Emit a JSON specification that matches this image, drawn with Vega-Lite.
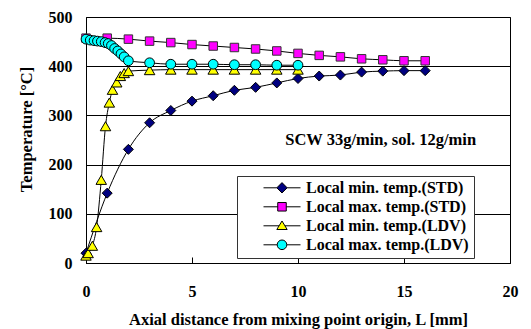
{
  "$schema": "https://vega.github.io/schema/vega-lite/v6.json",
  "width": 424,
  "height": 246,
  "autosize": {"type": "none"},
  "padding": {"left": 86, "top": 17, "right": 21, "bottom": 66},
  "background": "white",
  "config": {"view": {"stroke": "black", "strokeWidth": 1}, "font": "Liberation Serif"},
  "data": {"values": [
    {"series": "Local min. temp.(STD)", "x": 0, "y": 20},
    {"series": "Local min. temp.(STD)", "x": 1, "y": 142},
    {"series": "Local min. temp.(STD)", "x": 2, "y": 231},
    {"series": "Local min. temp.(STD)", "x": 3, "y": 285},
    {"series": "Local min. temp.(STD)", "x": 4, "y": 310},
    {"series": "Local min. temp.(STD)", "x": 5, "y": 329},
    {"series": "Local min. temp.(STD)", "x": 6, "y": 340},
    {"series": "Local min. temp.(STD)", "x": 7, "y": 351},
    {"series": "Local min. temp.(STD)", "x": 8, "y": 357},
    {"series": "Local min. temp.(STD)", "x": 9, "y": 366},
    {"series": "Local min. temp.(STD)", "x": 10, "y": 375},
    {"series": "Local min. temp.(STD)", "x": 11, "y": 380},
    {"series": "Local min. temp.(STD)", "x": 12, "y": 382},
    {"series": "Local min. temp.(STD)", "x": 13, "y": 388},
    {"series": "Local min. temp.(STD)", "x": 14, "y": 390},
    {"series": "Local min. temp.(STD)", "x": 15, "y": 391},
    {"series": "Local min. temp.(STD)", "x": 16, "y": 391},
    {"series": "Local max. temp.(STD)", "x": 0, "y": 457},
    {"series": "Local max. temp.(STD)", "x": 1, "y": 457},
    {"series": "Local max. temp.(STD)", "x": 2, "y": 455},
    {"series": "Local max. temp.(STD)", "x": 3, "y": 451},
    {"series": "Local max. temp.(STD)", "x": 4, "y": 448},
    {"series": "Local max. temp.(STD)", "x": 5, "y": 444},
    {"series": "Local max. temp.(STD)", "x": 6, "y": 441},
    {"series": "Local max. temp.(STD)", "x": 7, "y": 438},
    {"series": "Local max. temp.(STD)", "x": 8, "y": 435},
    {"series": "Local max. temp.(STD)", "x": 9, "y": 431},
    {"series": "Local max. temp.(STD)", "x": 10, "y": 426},
    {"series": "Local max. temp.(STD)", "x": 11, "y": 422},
    {"series": "Local max. temp.(STD)", "x": 12, "y": 419},
    {"series": "Local max. temp.(STD)", "x": 13, "y": 415},
    {"series": "Local max. temp.(STD)", "x": 14, "y": 413},
    {"series": "Local max. temp.(STD)", "x": 15, "y": 411},
    {"series": "Local max. temp.(STD)", "x": 16, "y": 411},
    {"series": "Local min. temp.(LDV)", "x": 0, "y": 15},
    {"series": "Local min. temp.(LDV)", "x": 0.1, "y": 20},
    {"series": "Local min. temp.(LDV)", "x": 0.3, "y": 35},
    {"series": "Local min. temp.(LDV)", "x": 0.5, "y": 73},
    {"series": "Local min. temp.(LDV)", "x": 0.72, "y": 169},
    {"series": "Local min. temp.(LDV)", "x": 0.92, "y": 278},
    {"series": "Local min. temp.(LDV)", "x": 1.1, "y": 326},
    {"series": "Local min. temp.(LDV)", "x": 1.25, "y": 352},
    {"series": "Local min. temp.(LDV)", "x": 1.45, "y": 367},
    {"series": "Local min. temp.(LDV)", "x": 1.62, "y": 380},
    {"series": "Local min. temp.(LDV)", "x": 1.8, "y": 386},
    {"series": "Local min. temp.(LDV)", "x": 2, "y": 390},
    {"series": "Local min. temp.(LDV)", "x": 3, "y": 392},
    {"series": "Local min. temp.(LDV)", "x": 4, "y": 393},
    {"series": "Local min. temp.(LDV)", "x": 5, "y": 393},
    {"series": "Local min. temp.(LDV)", "x": 6, "y": 393},
    {"series": "Local min. temp.(LDV)", "x": 7, "y": 393},
    {"series": "Local min. temp.(LDV)", "x": 8, "y": 393},
    {"series": "Local min. temp.(LDV)", "x": 9, "y": 393},
    {"series": "Local min. temp.(LDV)", "x": 10, "y": 393},
    {"series": "Local max. temp.(LDV)", "x": 0, "y": 455},
    {"series": "Local max. temp.(LDV)", "x": 0.2, "y": 453},
    {"series": "Local max. temp.(LDV)", "x": 0.38, "y": 452},
    {"series": "Local max. temp.(LDV)", "x": 0.54, "y": 451},
    {"series": "Local max. temp.(LDV)", "x": 0.72, "y": 450},
    {"series": "Local max. temp.(LDV)", "x": 0.9, "y": 448},
    {"series": "Local max. temp.(LDV)", "x": 1.05, "y": 446},
    {"series": "Local max. temp.(LDV)", "x": 1.2, "y": 442},
    {"series": "Local max. temp.(LDV)", "x": 1.35, "y": 436},
    {"series": "Local max. temp.(LDV)", "x": 1.5, "y": 431},
    {"series": "Local max. temp.(LDV)", "x": 1.65, "y": 425},
    {"series": "Local max. temp.(LDV)", "x": 1.8, "y": 419},
    {"series": "Local max. temp.(LDV)", "x": 2, "y": 411},
    {"series": "Local max. temp.(LDV)", "x": 3, "y": 407},
    {"series": "Local max. temp.(LDV)", "x": 4, "y": 404},
    {"series": "Local max. temp.(LDV)", "x": 5, "y": 404},
    {"series": "Local max. temp.(LDV)", "x": 6, "y": 404},
    {"series": "Local max. temp.(LDV)", "x": 7, "y": 403},
    {"series": "Local max. temp.(LDV)", "x": 8, "y": 403},
    {"series": "Local max. temp.(LDV)", "x": 9, "y": 402},
    {"series": "Local max. temp.(LDV)", "x": 10, "y": 402}
  ]},
  "layer": [
    {
      "mark": {"type": "line", "color": "black", "strokeWidth": 1, "interpolate": "monotone"},
      "encoding": {
        "x": {
          "field": "x", "type": "quantitative",
          "scale": {"domain": [0, 20], "nice": false},
          "axis": {
            "title": "Axial distance from mixing point origin, L [mm]",
            "values": [0, 5, 10, 15, 20],
            "grid": false,
            "tickSize": -6, "tickColor": "black",
            "domainColor": "black",
            "labelFont": "Liberation Serif", "labelFontWeight": "bold", "labelFontSize": 16, "labelColor": "black",
            "labelPadding": 26, "labelFlush": false,
            "titleFont": "Liberation Serif", "titleFontWeight": "bold", "titleFontSize": 16.5, "titleColor": "black",
            "titleY": 56, "titleBaseline": "middle"
          }
        },
        "y": {
          "field": "y", "type": "quantitative",
          "scale": {"domain": [0, 500], "nice": false},
          "axis": {
            "title": "Temperature [°C]",
            "values": [0, 100, 200, 300, 400, 500],
            "grid": true, "gridColor": "black", "gridWidth": 1,
            "ticks": false,
            "domainColor": "black",
            "labelFont": "Liberation Serif", "labelFontWeight": "bold", "labelFontSize": 16, "labelColor": "black",
            "labelPadding": 14,
            "titleFont": "Liberation Serif", "titleFontWeight": "bold", "titleFontSize": 16.5, "titleColor": "black",
            "titleX": -60, "titleY": 112, "titleAngle": -90, "titleAlign": "center", "titleBaseline": "middle"
          }
        },
        "detail": {"field": "series", "type": "nominal"}
      }
    },
    {
      "transform": [{"filter": "datum.series === 'Local min. temp.(STD)'"}],
      "mark": {"type": "point", "shape": "diamond", "filled": true, "fill": "#000080", "stroke": "black", "strokeWidth": 1, "size": 100, "opacity": 1},
      "encoding": {"x": {"field": "x", "type": "quantitative"}, "y": {"field": "y", "type": "quantitative"}}
    },
    {
      "transform": [{"filter": "datum.series === 'Local max. temp.(STD)'"}],
      "mark": {"type": "point", "shape": "square", "filled": true, "fill": "#FF00FF", "stroke": "#333333", "strokeWidth": 1, "size": 72, "opacity": 1},
      "encoding": {"x": {"field": "x", "type": "quantitative"}, "y": {"field": "y", "type": "quantitative"}}
    },
    {
      "transform": [{"filter": "datum.series === 'Local min. temp.(LDV)'"}],
      "mark": {"type": "point", "shape": "triangle-up", "filled": true, "fill": "#FFFF00", "stroke": "black", "strokeWidth": 1, "size": 110, "opacity": 1},
      "encoding": {"x": {"field": "x", "type": "quantitative"}, "y": {"field": "y", "type": "quantitative"}}
    },
    {
      "transform": [{"filter": "datum.series === 'Local max. temp.(LDV)'"}],
      "mark": {"type": "point", "shape": "circle", "filled": true, "fill": "#00FFFF", "stroke": "black", "strokeWidth": 1, "size": 95, "opacity": 1},
      "encoding": {"x": {"field": "x", "type": "quantitative"}, "y": {"field": "y", "type": "quantitative"}}
    },
    {
      "mark": {"type": "point", "filled": true, "opacity": 0, "size": 1369},
      "encoding": {
        "x": {"field": "x", "type": "quantitative"},
        "y": {"field": "y", "type": "quantitative"},
        "shape": {
          "field": "series", "type": "nominal",
          "scale": {
            "domain": ["Local min. temp.(STD)", "Local max. temp.(STD)", "Local min. temp.(LDV)", "Local max. temp.(LDV)"],
            "range": [
              "M-1,0L-0.28,0M-0.28,0L0,-0.28L0.28,0L0,0.28ZM0.28,0L1,0",
              "M-1,0L-0.23,0M-0.23,-0.23L0.23,-0.23L0.23,0.23L-0.23,0.23ZM0.23,0L1,0",
              "M-1,0L-0.158,0M0,-0.26L0.28,0.2L-0.28,0.2ZM0.158,0L1,0",
              "M-1,0L-0.26,0M0.26,0A0.26,0.26,0,1,1,-0.26,0A0.26,0.26,0,1,1,0.26,0ZM0.26,0L1,0"
            ]
          },
          "legend": {
            "title": null, "orient": "none", "legendX": 151, "legendY": 159,
            "padding": 5, "strokeColor": "#333333", "fillColor": "white",
            "symbolSize": 1369, "symbolStrokeColor": "black", "symbolStrokeWidth": 1, "symbolOpacity": 1,
            "symbolOffset": 21, "labelOffset": 5, "clipHeight": 13.6,
            "labelFont": "Liberation Serif", "labelFontSize": 16, "labelFontWeight": "bold", "labelColor": "black",
            "labelLimit": 400,
            "encode": {"symbols": {"update": {"stroke": {"value": "black"}, "strokeWidth": {"value": 1}, "opacity": {"value": 1}}}}
          }
        },
        "fill": {
          "field": "series", "type": "nominal",
          "scale": {
            "domain": ["Local min. temp.(STD)", "Local max. temp.(STD)", "Local min. temp.(LDV)", "Local max. temp.(LDV)"],
            "range": ["#000080", "#FF00FF", "#FFFF00", "#00FFFF"]
          },
          "legend": {
            "title": null, "orient": "none", "legendX": 151, "legendY": 159,
            "padding": 5, "strokeColor": "#333333", "fillColor": "white",
            "symbolSize": 1369, "symbolStrokeColor": "black", "symbolStrokeWidth": 1, "symbolOpacity": 1,
            "symbolOffset": 21, "labelOffset": 5, "clipHeight": 13.6,
            "labelFont": "Liberation Serif", "labelFontSize": 16, "labelFontWeight": "bold", "labelColor": "black",
            "labelLimit": 400,
            "encode": {"symbols": {"update": {"stroke": {"value": "black"}, "strokeWidth": {"value": 1}, "opacity": {"value": 1}}}}
          }
        }
      }
    },
    {
      "data": {"values": [{"note": "SCW 33g/min, sol. 12g/min"}]},
      "mark": {"type": "text", "font": "Liberation Serif", "fontWeight": "bold", "fontSize": 16.5, "color": "black", "align": "center", "baseline": "middle"},
      "encoding": {
        "x": {"datum": 13.9, "type": "quantitative"},
        "y": {"datum": 250, "type": "quantitative"},
        "text": {"field": "note", "type": "nominal"}
      }
    }
  ]
}
